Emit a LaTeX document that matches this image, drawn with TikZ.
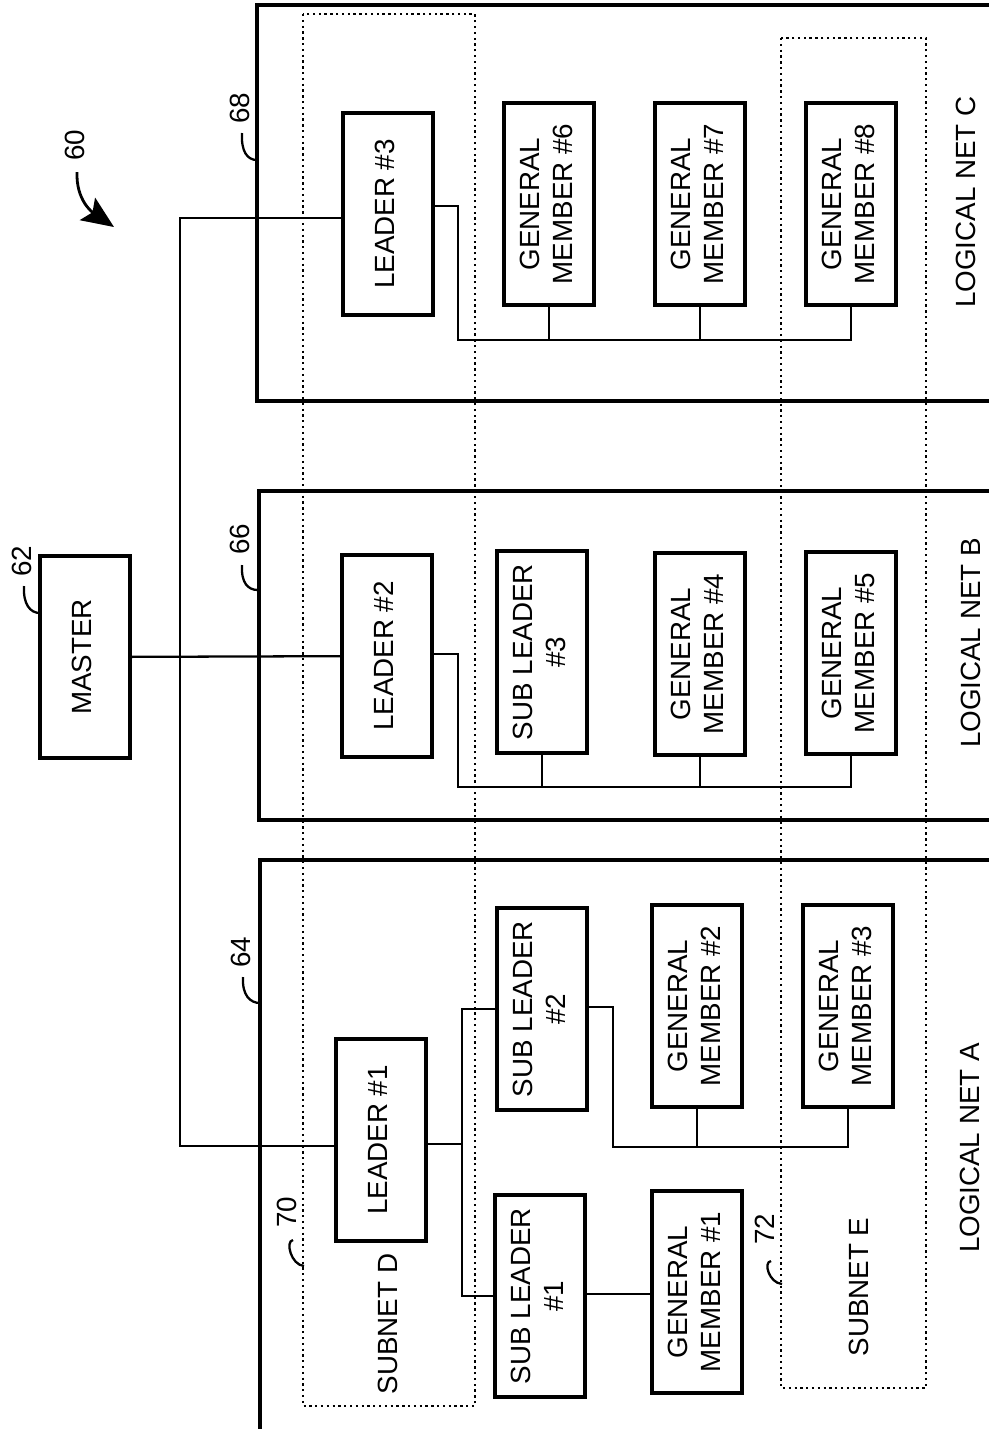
\documentclass[tikz,border=0pt]{standalone}
\usepackage{graphicx}
\usepackage{fontspec}
\setmainfont{Liberation Sans}
\usetikzlibrary{arrows.meta}
\newcommand{\rt}[1]{\rotatebox{90}{\begin{tabular}{@{}c@{}}#1\end{tabular}}}
\begin{document}
\begin{tikzpicture}[x=0.01cm,y=-0.01cm,
    every node/.style={font=\fontsize{7.9}{9.4}\selectfont},
    box/.style={draw,line width=0.9pt,minimum width=0.9cm,minimum height=2.02cm,inner sep=0pt},
    wire/.style={line width=0.65pt},
    net/.style={line width=0.9pt},
    subnet/.style={line width=0.65pt,densely dotted},
    tag/.style={rotate=90,inner sep=0pt}]
    \useasboundingbox (0,0) rectangle (989,1429);
    \draw[net] (989,5) -- (257,5) -- (257,401) -- (989,401);
    \draw[net] (989,491) -- (259,491) -- (259,820) -- (989,820);
    \draw[net] (989,860) -- (260,860) -- (260,1429);
    \draw[subnet] (303,14) rectangle (475,1406);
    \draw[subnet] (781,38) rectangle (926,1388);
    \node[box] (m) at (85,657) {\rt{MASTER}};
    \node[box] (l3) at (388,214) {\rt{LEADER \#3}};
    \node[box] (g6) at (549,204) {\rt{GENERAL\\MEMBER \#6}};
    \node[box] (g7) at (700,204) {\rt{GENERAL\\MEMBER \#7}};
    \node[box] (g8) at (851,204) {\rt{GENERAL\\MEMBER \#8}};
    \node[box] (l2) at (387,656) {\rt{LEADER \#2}};
    \node[box] (s3) at (542,652) {\rt{SUB LEADER\\\#3}};
    \node[box] (g4) at (700,654) {\rt{GENERAL\\MEMBER \#4}};
    \node[box] (g5) at (851,653) {\rt{GENERAL\\MEMBER \#5}};
    \node[box] (l1) at (381,1140) {\rt{LEADER \#1}};
    \node[box] (s2) at (542,1009) {\rt{SUB LEADER\\\#2}};
    \node[box] (s1) at (540,1296) {\rt{SUB LEADER\\\#1}};
    \node[box] (g2) at (697,1006) {\rt{GENERAL\\MEMBER \#2}};
    \node[box] (g3) at (848,1006) {\rt{GENERAL\\MEMBER \#3}};
    \node[box] (g1) at (697,1292) {\rt{GENERAL\\MEMBER \#1}};
    % master bus
    \coordinate (bus) at (180,656);
    \draw[wire] (m) -- (l2);
    \draw[wire] ([yshift=-0.4mm]l3.west) -| (bus) |- ([yshift=-0.6mm]l1.west);
    % logical net C
    \coordinate (c) at (458,340);
    \draw[wire] ([yshift=0.8mm]l3.east) -| (c) -| (g8);
    \draw[wire] (g6) -- (g6 |- c);
    \draw[wire] (g7) -- (g7 |- c);
    % logical net B
    \coordinate (b) at (458,787);
    \draw[wire] ([yshift=0.2mm]l2.east) -| (b) -| (g5);
    \draw[wire] (s3) -- (s3 |- b);
    \draw[wire] (g4) -- (g4 |- b);
    % logical net A
    \coordinate (ja) at (462,1144);
    \draw[wire] (s2.west) -| (ja) |- (s1.west);
    \draw[wire] (l1.east |- ja) -- (ja);
    \coordinate (a) at (613,1147);
    \draw[wire] ([yshift=0.2mm]s2.east) -| (a) -| (g3);
    \draw[wire] (g2) -- (g2 |- a);
    \draw[wire] ([yshift=0.2mm]s1.east) -- ([yshift=0.2mm]s1.east -| g1.west);
    % reference numerals
    \node[tag] (n60) at (75,145) {60};
    \node[tag] (n62) at (22,561) {62};
    \node[tag] (n64) at (241,952) {64};
    \node[tag] (n66) at (240,539) {66};
    \node[tag] (n68) at (240,108) {68};
    \node[tag] (n70) at (287,1212) {70};
    \node[tag] (n72) at (765,1229) {72};
    \coordinate (e62) at (40,613);
    \coordinate (e64) at (260,1003);
    \coordinate (e66) at (258,590);
    \coordinate (e68) at (257,160);
    \coordinate (e70) at (304,1266);
    \coordinate (e72) at (782,1284);
    \draw[line width=0.8pt,-{Stealth[length=3.2mm,width=2.7mm,inset=0.6mm]}] (77,172) .. controls (76,200) and (92,212) .. (114,227);
    \draw[wire] (24,586) .. controls +(-1,18) and +(-10,0) .. (e62);
    \draw[wire] (243,977) .. controls +(-1,18) and +(-10,0) .. (e64);
    \draw[wire] (242,565) .. controls +(-1,18) and +(-10,0) .. (e66);
    \draw[wire] (242,133) .. controls +(-1,18) and +(-10,0) .. (e68);
    \draw[wire] (293,1240) .. controls (285,1241) and (291,1265) .. (e70);
    \draw[wire] (771,1261) .. controls (763,1262) and (769,1283) .. (e72);
    % subnet and net names
    \node[tag] (sd) at (388,1324) {SUBNET D};
    \node[tag] (se) at (859,1287) {SUBNET E};
    \node[tag] (nc) at (966,202) {LOGICAL NET C};
    \node[tag] (nb) at (971,643) {LOGICAL NET B};
    \node[tag] (na) at (970,1148) {LOGICAL NET A};
\end{tikzpicture}
\end{document}
